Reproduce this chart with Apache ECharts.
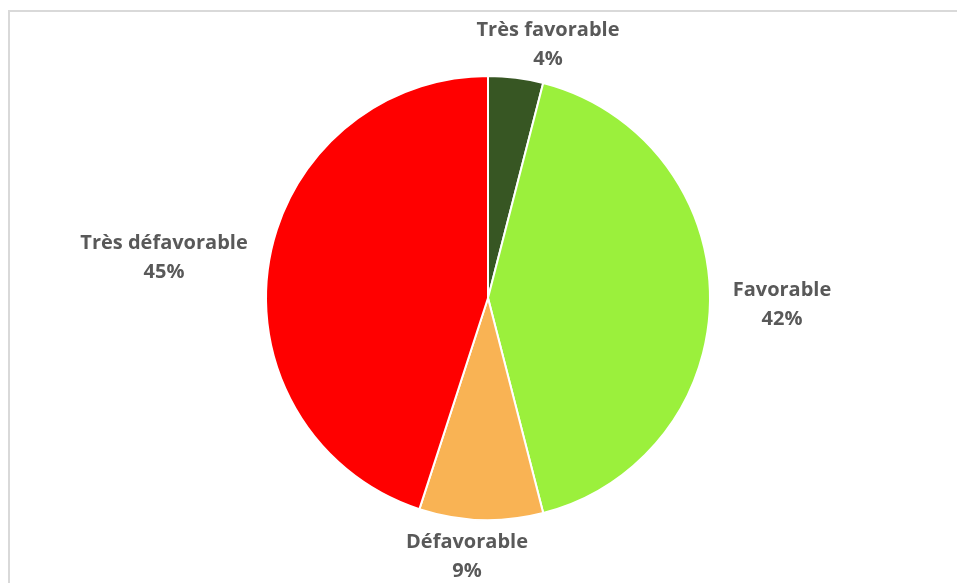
<!DOCTYPE html>
<html>
<head>
<meta charset="utf-8">
<script src="https://cdn.jsdelivr.net/npm/echarts@6/dist/echarts.min.js"></script>
<style>
html,body{margin:0;padding:0;background:#fff;}
#chart{width:957px;height:583px;}
</style>
</head>
<body>
<div id="chart"></div>
<script>
const categories = ['Très favorable', 'Favorable', 'Défavorable', 'Très défavorable'];
const values = [4, 42, 9, 45];
const colors = ['#375623', '#9BF03C', '#F9B354', '#FF0000'];

// label anchor centres (layout only)
const labelPos = [[548, 45], [782, 305], [467, 557], [164, 258]];

const chart = echarts.init(document.getElementById('chart'), null, {renderer: 'canvas'});
chart.setOption({
  animation: false,
  backgroundColor: '#fff',
  graphic: [{
    type: 'rect',
    shape: {x: 9, y: 11, width: 1200, height: 1200},
    style: {fill: 'none', stroke: '#D9D9D9', lineWidth: 2},
    silent: true
  }],
  series: [{
    type: 'pie',
    center: [488, 298],
    radius: 222,
    startAngle: 90,
    clockwise: true,
    data: categories.map((c, i) => ({name: c, value: values[i], itemStyle: {color: colors[i]}})),
    itemStyle: {borderColor: '#fff', borderWidth: 2},
    label: {
      show: true,
      position: 'outside',
      formatter: '{b}\n{d}%',
      color: '#595959',
      fontFamily: 'Open Sans',
      fontWeight: 'bold',
      fontSize: 20,
      lineHeight: 29,
      align: 'center'
    },
    labelLine: {show: false},
    labelLayout: function (p) {
      const pos = labelPos[p.dataIndex];
      return {x: pos[0], y: pos[1], align: 'center', verticalAlign: 'middle'};
    },
    emphasis: {disabled: true}
  }]
});
</script>
</body>
</html>
